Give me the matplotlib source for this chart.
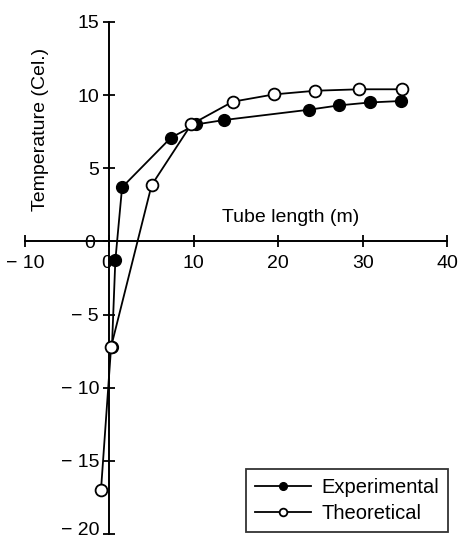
import matplotlib
matplotlib.use("Agg")
import matplotlib.pyplot as plt
import matplotlib.transforms as mtransforms

plt.rcParams['font.family'] = ['Liberation Sans', 'DejaVu Sans']

exp_x = [0.3, 0.7, 1.5, 7.3, 10.3, 13.6, 23.6, 27.2, 30.9, 34.6]
exp_y = [-7.2, -1.3, 3.7, 7.1, 8.0, 8.3, 9.0, 9.3, 9.5, 9.6]
theo_x = [-1.0, 0.2, 5.0, 9.7, 14.6, 19.5, 24.4, 29.6, 34.7]
theo_y = [-17.0, -7.2, 3.85, 8.0, 9.55, 10.05, 10.3, 10.4, 10.4]

x_ticks = [-10, 0, 10, 20, 30, 40]
x_labels = ['− 10', '0', '10', '20', '30', '40']
y_ticks = [-20, -15, -10, -5, 0, 5, 10, 15]
y_labels = ['− 20', '− 15', '− 10', '− 5', '0', '5', '10', '15']

fig = plt.figure(figsize=(4.59, 5.39), dpi=100)
ax = fig.add_axes([0.0545, 0.0093, 0.9195, 0.9499])

ax.plot(exp_x, exp_y, color='black', lw=1.3, marker='o', ms=8.5,
        mfc='black', mec='black', label='Experimental', zorder=3)
ax.plot(theo_x, theo_y, color='black', lw=1.3, marker='o', ms=8.5,
        mfc='white', mec='black', mew=1.3, label='Theoretical', zorder=4)

ax.set_xlim(-10, 40)
ax.set_ylim(-20, 15)
for s in ['top', 'right']:
    ax.spines[s].set_visible(False)
ax.spines['left'].set_position(('data', 0))
ax.spines['bottom'].set_position(('data', 0))
for s in ['left', 'bottom']:
    ax.spines[s].set_linewidth(1.4)

ax.set_xticks(x_ticks)
ax.set_xticklabels(x_labels)
ax.set_yticks(y_ticks)
ax.set_yticklabels(y_labels)
ax.tick_params(axis='both', direction='inout', length=9, width=1.3,
               labelsize=14)
ax.tick_params(axis='x', pad=5)
ax.tick_params(axis='y', pad=3)

for lab in ax.get_yticklabels():
    if lab.get_text() == '0':
        lab.set_bbox(dict(facecolor='white', edgecolor='none', pad=0.5))
        lab.set_transform(lab.get_transform() +
                          mtransforms.ScaledTranslation(-3 / 72, 0, fig.dpi_scale_trans))
    if lab.get_text() == '− 20':
        lab.set_transform(lab.get_transform() +
                          mtransforms.ScaledTranslation(0, 4 / 72, fig.dpi_scale_trans))
for lab in ax.get_xticklabels():
    if lab.get_text() == '0':
        lab.set_zorder(5)
        lab.set_transform(lab.get_transform() +
                          mtransforms.ScaledTranslation(-2 / 72, 0, fig.dpi_scale_trans))

ax.text(-8.2, 13.2, 'Temperature (Cel.)', rotation=90, fontsize=14,
        ha='center', va='top')
ax.text(21.5, 1.3, 'Tube length (m)', fontsize=14, ha='center', va='baseline')

leg = ax.legend(loc='lower right', bbox_to_anchor=(1.012, -0.004), frameon=True,
                fancybox=False, edgecolor='black', fontsize=14.5,
                handlelength=2.8, handletextpad=0.5, markerscale=0.65,
                borderpad=0.45, labelspacing=0.35, borderaxespad=0.2)
leg.get_frame().set_linewidth(1.3)

fig.savefig('out.png', dpi=100)
